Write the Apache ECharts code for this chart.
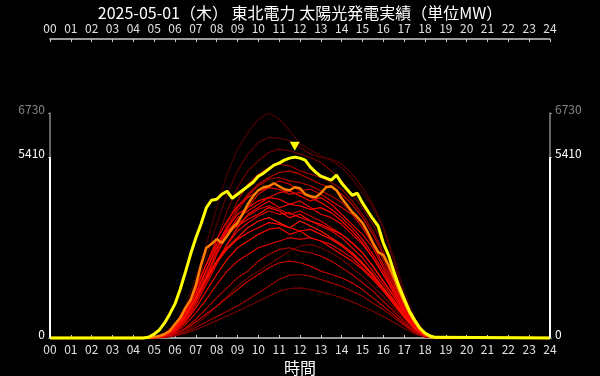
<!DOCTYPE html>
<html>
<head>
<meta charset="utf-8">
<script src="https://cdn.jsdelivr.net/npm/echarts@6/dist/echarts.min.js"></script>
<style>
  html, body { margin: 0; background: #000; }
  #main { width: 600px; height: 376px; }
</style>
</head>
<body>
<div id="main"></div>
<script>
const titleText = '2025-05-01（木） 東北電力 太陽光発電実績（単位MW）';

// hours for the past days (30 min steps in daytime)
const hoursPast = [0, 4.5, 5, 5.5, 6, 6.5, 7, 7.5, 8, 8.5, 9, 9.5, 10, 10.5, 11, 11.5,
  12, 12.5, 13, 13.5, 14, 14.5, 15, 15.5, 16, 16.5, 17, 17.5, 18, 18.5, 24];

// hours for today / yesterday (15 min steps in daytime)
const hoursFine = [0, 4.5, 4.75, 5, 5.25, 5.5, 5.75, 6, 6.25, 6.5, 6.75, 7, 7.25, 7.5, 7.75,
  8, 8.25, 8.5, 8.75, 9, 9.25, 9.5, 9.75, 10, 10.25, 10.5, 10.75, 11, 11.25, 11.5, 11.75,
  12, 12.25, 12.5, 12.75, 13, 13.25, 13.5, 13.75, 14, 14.25, 14.5, 14.75, 15, 15.25, 15.5, 15.75,
  16, 16.25, 16.5, 16.75, 17, 17.25, 17.5, 17.75, 18, 18.25, 18.5, 24];

// past days, oldest (dark) first
const pastDays = [
  [0, 0,15,100,400,950,1800,2800,3900,4900,5650,6150,6550,6730,6550,6200,5800,5620,5450,5300,5100,4750,4350,3900,3300,2450,1400,600,150,0, 0],
  [0, 0,10,90,330,780,1500,2400,3400,4300,5000,5500,5850,6000,5980,5900,5700,5500,5400,5350,5200,4900,4500,4000,3300,2300,1250,500,120,0, 0],
  [0, 0,0,20,80,200,400,650,950,1250,1550,1800,2000,2200,2400,2600,2750,2800,2700,2550,2350,2100,1850,1550,1250,900,550,230,50,0, 0],
  [0, 0,10,60,250,600,1200,2000,2900,3800,4500,5000,5300,5550,5650,5600,5500,5400,5250,5000,4700,4300,3900,3400,2800,2100,1100,450,120,0, 0],
  [0, 0,0,20,60,140,250,380,520,660,800,950,1100,1250,1400,1480,1500,1450,1380,1300,1200,1080,950,800,640,470,290,120,30,0, 0],
  [0, 0,10,60,240,580,1100,1800,2600,3400,4100,4600,4900,5100,5200,5150,5000,4900,4800,4650,4450,4100,3700,3200,2600,1750,1000,420,100,0, 0],
  [0, 0,0,20,80,180,320,480,640,800,960,1150,1350,1550,1750,1880,1900,1850,1750,1650,1550,1400,1250,1050,850,620,380,160,40,0, 0],
  [0, 0,10,60,230,560,1080,1750,2500,3200,3800,4250,4550,4750,4800,4700,4650,4550,4400,4250,4050,3750,3400,2900,2350,1600,900,380,100,0, 0],
  [0, 0,0,30,120,300,560,880,1200,1500,1800,2000,2300,2500,2650,2700,2600,2550,2450,2300,2100,1900,1650,1400,1100,800,480,200,50,0, 0],
  [0, 0,0,60,220,560,1100,1800,2600,3300,3900,4300,4600,4800,4950,5000,4900,4750,4600,4500,4300,4000,3600,3100,2500,1650,950,400,100,0, 0],
  [0, 0,0,30,110,260,480,720,950,1200,1450,1700,1900,2100,2250,2300,2250,2150,2000,1900,1800,1650,1450,1200,950,700,420,180,40,0, 0],
  [0, 0,10,80,290,680,1250,1900,2550,3050,3400,3650,3850,3950,3850,3700,3800,3650,3500,3300,3100,2850,2550,2150,1700,1250,760,330,80,0, 0],
  [0, 0,10,80,300,700,1300,2000,2700,3200,3500,3900,4300,4500,4700,4600,4400,4450,4300,4100,3900,3700,3300,2800,2200,1600,950,420,100,0, 0],
  [0, 0,0,40,160,400,750,1150,1600,2000,2300,2500,2700,2800,2900,3000,2950,3000,2900,2800,2600,2400,2100,1800,1450,1050,650,280,60,0, 0],
  [0, 0,10,60,240,580,1100,1700,2300,2800,3200,3450,3650,3800,3700,3750,3600,3500,3350,3200,3000,2700,2400,2000,1600,1150,700,300,70,0, 0],
  [0, 0,10,70,260,620,1150,1800,2500,3100,3600,3800,4000,4200,4350,4400,4250,4100,4200,4000,3700,3400,3100,2700,2100,1500,900,380,90,0, 0],
  [0, 0,0,50,200,500,1000,1600,2200,2800,3300,3700,3900,4100,3900,4000,4100,3900,3700,3600,3400,3100,2800,2400,1900,1400,820,340,80,0, 0],
  [0, 0,10,100,350,800,1450,2200,2950,3500,3950,4200,4400,4500,4450,4300,4350,4200,4050,3850,3600,3300,2950,2500,2000,1450,880,380,90,0, 0],
  [0, 0,0,50,200,480,900,1400,1900,2350,2700,2900,3100,3250,3300,3100,3200,3000,2900,2700,2500,2300,2050,1750,1400,1000,620,270,60,0, 0],
  [0, 0,10,80,300,680,1200,1750,2250,2650,2950,3150,3300,3450,3400,3300,3200,3250,3100,2950,2750,2500,2200,1850,1450,1050,640,270,60,0, 0],
  [0, 0,20,120,400,850,1500,2200,2800,3300,3700,3900,4100,4200,4150,4000,3950,3850,3900,3750,3500,3200,2850,2400,1900,1350,800,330,80,0, 0],
  [0, 0,10,90,320,740,1350,2050,2700,3200,3350,3550,3700,3900,3800,3600,3700,3500,3400,3250,3100,2850,2550,2150,1700,1250,750,320,80,0, 0],
  [0, 0,10,70,280,650,1200,1800,2300,2700,3000,3300,3500,3600,3450,3300,3500,3350,3200,3000,2800,2550,2250,1900,1500,1100,660,280,70,0, 0]
];
const pastColors = ['#4a0000', '#5c0000', '#680000', '#700000', '#7a0000', '#900000', '#9a0000',
  '#a80000', '#b40000', '#c00000', '#c40000', '#cc0000', '#d40000', '#da0000', '#e00000',
  '#e60000', '#ec0000', '#f20000', '#f60000', '#fa0000', '#ff0000', '#ff0a00', '#ff1800'];

const yesterdayMW = [0,
  0,10,30,60,120,210,420,600,900,1140,1580,2180,2690,2810,
  2960,2840,3050,3290,3440,3710,4010,4240,4420,4510,4540,4630,4540,4450,4420,4510,
  4480,4300,4240,4210,4330,4510,4540,4420,4180,3980,3770,3620,3440,3170,2840,2570,
  2480,2180,1820,1430,1080,750,480,270,120,30,0, 0];

const todayMW = [0,
  0,30,120,240,450,720,1020,1460,1970,2510,2990,3410,3890,4120,
  4150,4300,4390,4180,4300,4420,4540,4660,4840,4930,5050,5170,5230,5320,5380,5410,
  5380,5320,5110,4960,4840,4780,4720,4870,4630,4450,4270,4330,4040,3800,3560,3350,
  2840,2480,2000,1550,1170,810,540,300,150,60,20, 0];

const yMax = Math.max(...pastDays.flat(), ...yesterdayMW, ...todayMW);
const todayMax = Math.max(...todayMW);
const yTicks = [0, todayMax, yMax];

const chart = echarts.init(document.getElementById('main'));

const hourFmt = (v) => String(v).padStart(2, '0');
const font = 'Noto Sans CJK JP';

function xAxisCfg(pos) {
  return {
    type: 'value', min: 0, max: 24, interval: 1, position: pos,
    offset: pos === 'top' ? 74 : 0,
    axisLine: { show: true, onZero: false, lineStyle: { color: '#ccc', width: 1.5 } },
    axisTick: { show: true, inside: true, length: 3, lineStyle: { color: '#ccc' } },
    axisLabel: { color: '#e0e0e0', fontSize: 12, margin: 5, fontFamily: font, formatter: hourFmt },
    splitLine: { show: false }
  };
}

function yAxisCfg(pos) {
  return {
    type: 'value', min: 0, max: yMax, position: pos,
    axisLine: { show: true, onZero: false, lineStyle: { color: '#888', width: 1.5 } },
    axisTick: { show: true, customValues: yTicks, length: 2, lineStyle: { color: '#888' } },
    axisLabel: {
      customValues: yTicks, margin: 5, fontFamily: font,
      formatter: (v) => (v === yMax ? '{g|' + v + '}' : '{w|' + v + '}'),
      rich: {
        g: { color: '#858585', fontSize: 12, fontFamily: font, padding: [0, 0, 7, 0] },
        w: { color: '#fff', fontSize: 12, fontFamily: font, padding: [0, 0, 7, 0] }
      }
    },
    splitLine: { show: false }
  };
}

const series = pastDays.map((row, i) => ({
  type: 'line',
  data: hoursPast.map((h, j) => [h, row[j]]),
  showSymbol: false,
  lineStyle: { color: pastColors[i], width: 1.2 },
  silent: true
}));

series.push({
  type: 'line',
  data: hoursFine.map((h, j) => [h, yesterdayMW[j]]),
  showSymbol: false,
  lineStyle: { color: '#ff8000', width: 2.5 },
  z: 3
});

series.push({
  type: 'line',
  data: hoursFine.map((h, j) => [h, todayMW[j]]),
  showSymbol: false,
  clip: false,
  lineStyle: { color: '#ffff00', width: 3 },
  z: 4,
  markPoint: {
    symbol: 'triangle',
    symbolSize: [10, 9],
    symbolRotate: 180,
    symbolOffset: [0, -11],
    itemStyle: { color: '#ffff00' },
    label: { show: false },
    data: [{ type: 'max', valueDim: 'y' }]
  },
  markLine: {
    silent: true,
    symbol: ['none', 'none'],
    label: { show: false },
    lineStyle: { color: '#fff', width: 2, type: 'solid' },
    data: [
      [{ coord: [0, 0] }, { coord: [0, todayMax] }],
      [{ coord: [24, 0] }, { coord: [24, todayMax] }]
    ]
  }
});

const bottomAxis = xAxisCfg('bottom');
bottomAxis.name = '時間';
bottomAxis.nameLocation = 'middle';
bottomAxis.nameGap = 21;
bottomAxis.nameTextStyle = { color: '#fff', fontSize: 16, fontFamily: font };

chart.setOption({
  backgroundColor: '#000',
  animation: false,
  textStyle: { fontFamily: font },
  title: {
    text: titleText, left: 'center', top: 0,
    textStyle: { color: '#fff', fontSize: 16, fontWeight: 'normal', fontFamily: font }
  },
  grid: { left: 50, right: 50, top: 113, bottom: 38, outerBoundsMode: 'none' },
  xAxis: [bottomAxis, xAxisCfg('top')],
  yAxis: [yAxisCfg('left'), yAxisCfg('right')],
  series: series
});
</script>
</body>
</html>
